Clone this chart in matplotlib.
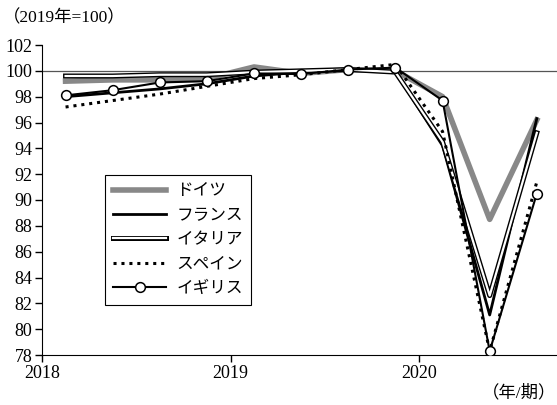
import matplotlib.pyplot as plt
import matplotlib.patheffects as pe
import numpy as np

plt.rcParams['font.family'] = ['Liberation Serif', 'Noto Sans CJK JP']

years = [2018] * 4 + [2019] * 4 + [2020] * 3
quarters = [1, 2, 3, 4, 1, 2, 3, 4, 1, 2, 3]

germany = [99.2, 99.3, 99.3, 99.4, 100.3, 99.8, 100.1, 100.0, 98.0, 88.5, 96.2]
france = [98.0, 98.3, 98.6, 99.0, 99.6, 99.9, 100.1, 99.9, 94.2, 81.1, 96.3]
italy = [99.6, 99.6, 99.7, 99.7, 99.9, 100.0, 100.1, 99.9, 94.5, 82.6, 95.2]
spain = [97.2, 97.7, 98.2, 98.8, 99.4, 99.7, 100.1, 100.5, 95.3, 78.3, 91.4]
uk = [98.1, 98.5, 99.1, 99.2, 99.8, 99.75, 100.1, 100.25, 97.7, 78.3, 90.5]

yticks = list(range(78, 103, 2))
xticks = [2018, 2019, 2020]

x = np.array(years) + (np.array(quarters) - 0.5) / 4

fig = plt.figure(figsize=(5.57, 4.05), dpi=100)
ax = fig.add_axes([42 / 557, 50 / 405, 515 / 557, 310 / 405])

ax.axhline(100, color='#555555', lw=0.9, zorder=1)

ax.plot(x, germany, color='#888888', lw=4, label='ドイツ', zorder=2)
ax.plot(x, france, color='black', lw=2, label='フランス', zorder=3)
ax.plot(x, italy, color='white', lw=1.6, label='イタリア', zorder=4,
        path_effects=[pe.withStroke(linewidth=3.6, foreground='black')])
ax.plot(x, spain, color='black', lw=2.2, ls=(0, (1, 1.6)), label='スペイン', zorder=5)
ax.plot(x, uk, color='black', lw=1.5, marker='o', ms=7, mfc='white', mec='black',
        mew=1.1, label='イギリス', zorder=6)

ax.set_xlim(2018, 2018 + 515 / 188.5)
ax.set_ylim(78, 102)
ax.set_yticks(yticks)
ax.set_xticks(xticks)
ax.tick_params(direction='out', length=5, width=1, labelsize=13, pad=2)
ax.spines['top'].set_visible(False)
ax.spines['right'].set_visible(False)

leg = ax.legend(loc='lower left', bbox_to_anchor=(0.122, 0.161), borderaxespad=0,
                fontsize=12, handlelength=3.2, handletextpad=0.6, labelspacing=0.5,
                borderpad=0.5, fancybox=False, framealpha=1, edgecolor='black')
leg.get_frame().set_linewidth(0.8)

fig.text(0.005, 0.955, '（2019年=100）', fontsize=12.5, va='center', ha='left')
fig.text(0.998, 0.03, '（年/期）', fontsize=12.5, va='center', ha='right')

fig.savefig('out.png', dpi=100)
